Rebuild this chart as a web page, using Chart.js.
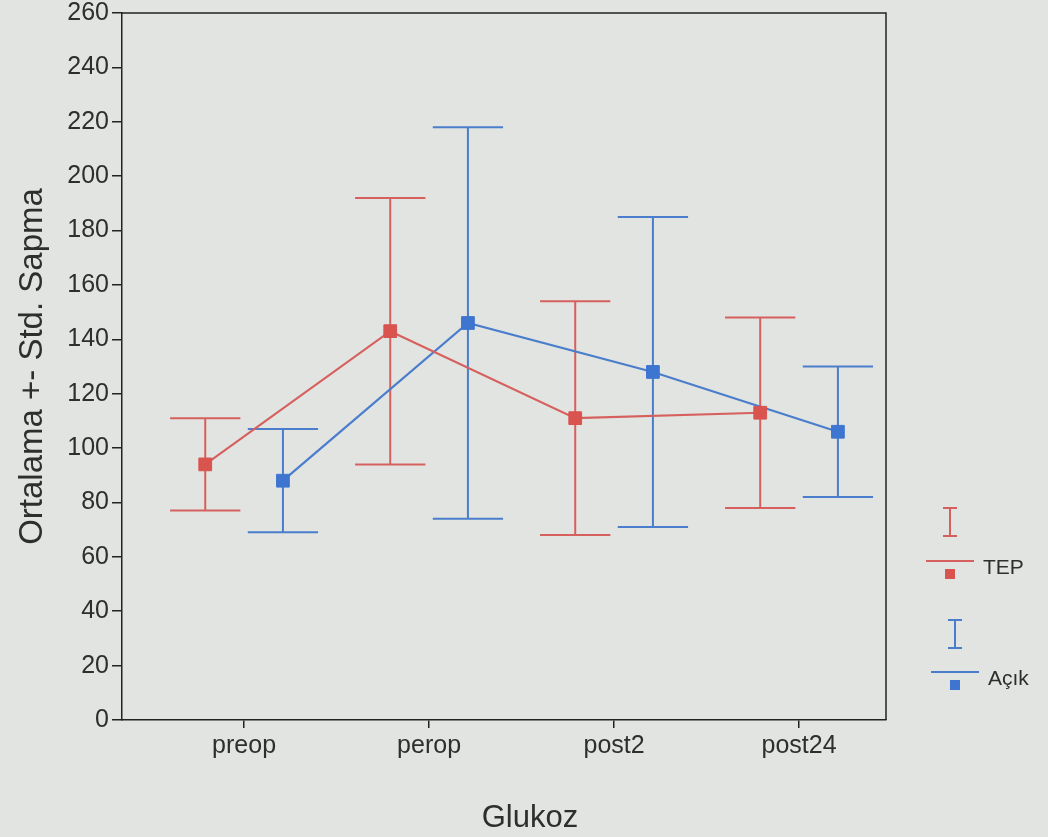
<!DOCTYPE html>
<html><head><meta charset="utf-8">
<script src="https://cdn.jsdelivr.net/npm/chart.js@4/dist/chart.umd.min.js"></script>
<style>html,body{margin:0;padding:0;background:#e2e4e1;overflow:hidden}#wrap{width:1048px;height:837px;position:relative}</style>
</head><body><div id="wrap"><canvas id="c" width="1048" height="837"></canvas></div>
<script>
// Data (mean ± SD)
const categories = ['preop', 'perop', 'post2', 'post24'];
const seriesNames = ['TEP', 'Açık'];
const tepMean = [94, 143, 111, 113];
const tepSD   = [17, 49, 43, 35];
const acikMean = [88, 146, 128, 106];
const acikSD   = [19, 72, 57, 24];
const yTickValues = [0, 20, 40, 60, 80, 100, 120, 140, 160, 180, 200, 220, 240, 260];
const xTitle = 'Glukoz';
const yTitle = 'Ortalama +- Std. Sapma';

const RED = '#d6605e', BLUE = '#4a7dcc';
const RED_M = '#d9534f', BLUE_M = '#3d75d0';
const DODGE = 0.21, CAP_HALF = 0.19;
const FONT = "'Liberation Sans', Arial, sans-serif";

function pts(means, off){ return means.map((m,i)=>({x:i+1+off, y:m})); }

const errorBars = {
  id:'errorBars',
  beforeDatasetsDraw(chart){
    const {ctx, scales:{x,y}} = chart;
    chart.data.datasets.forEach(ds=>{
      ctx.save();
      ctx.strokeStyle = ds.borderColor; ctx.lineWidth = 2;
      ds.data.forEach((p,i)=>{
        const sd = ds.sd[i];
        const px = x.getPixelForValue(p.x);
        const x0 = x.getPixelForValue(p.x - CAP_HALF), x1 = x.getPixelForValue(p.x + CAP_HALF);
        const yt = y.getPixelForValue(p.y + sd), yb = y.getPixelForValue(p.y - sd);
        ctx.beginPath();
        ctx.moveTo(px, yt); ctx.lineTo(px, yb);
        ctx.moveTo(x0, yt); ctx.lineTo(x1, yt);
        ctx.moveTo(x0, yb); ctx.lineTo(x1, yb);
        ctx.stroke();
      });
      ctx.restore();
    });
  },
  afterDraw(chart){
    const {ctx, chartArea:a} = chart;
    ctx.save();
    // frame top & right
    ctx.strokeStyle = '#222'; ctx.lineWidth = 1.5;
    ctx.beginPath();
    ctx.moveTo(a.left, a.top); ctx.lineTo(a.right, a.top); ctx.lineTo(a.right, a.bottom);
    ctx.stroke();
    // x title
    ctx.fillStyle = '#2e2e2e';
    ctx.font = "31px " + FONT;
    ctx.textAlign = 'center'; ctx.textBaseline = 'middle';
    ctx.fillText(xTitle, 530, 818);
    // legend
    const items = [
      {name: seriesNames[0], c: RED, m: RED_M, ix: 950, iy: 508, ly: 561},
      {name: seriesNames[1], c: BLUE, m: BLUE_M, ix: 955, iy: 620, ly: 672}
    ];
    items.forEach(it=>{
      ctx.strokeStyle = it.c; ctx.lineWidth = 2;
      ctx.beginPath();
      ctx.moveTo(it.ix, it.iy); ctx.lineTo(it.ix, it.iy+28);
      ctx.moveTo(it.ix-7, it.iy); ctx.lineTo(it.ix+7, it.iy);
      ctx.moveTo(it.ix-7, it.iy+28); ctx.lineTo(it.ix+7, it.iy+28);
      ctx.moveTo(it.ix-24, it.ly); ctx.lineTo(it.ix+24, it.ly);
      ctx.stroke();
      ctx.fillStyle = it.m;
      ctx.fillRect(it.ix-5, it.ly+8, 10, 10);
      ctx.fillStyle = '#2e2e2e';
      ctx.font = "21px " + FONT;
      ctx.textAlign = 'left'; ctx.textBaseline = 'middle';
      ctx.fillText(it.name, it.ix+33, it.ly+7);
    });
    ctx.restore();
  }
};

new Chart(document.getElementById('c'), {
  type: 'line',
  data: {
    datasets: [
      {label: seriesNames[0], data: pts(tepMean, -DODGE), sd: tepSD, borderColor: RED, backgroundColor: RED_M,
       pointBackgroundColor: RED_M, pointBorderColor: RED_M, borderWidth: 2.2, pointStyle: 'rect', pointRadius: 9, pointBorderWidth: 1},
      {label: seriesNames[1], data: pts(acikMean, DODGE), sd: acikSD, borderColor: BLUE, backgroundColor: BLUE_M,
       pointBackgroundColor: BLUE_M, pointBorderColor: BLUE_M, borderWidth: 2.2, pointStyle: 'rect', pointRadius: 9, pointBorderWidth: 1}
    ]
  },
  options: {
    responsive: false, animation: false, devicePixelRatio: 1,
    layout: {padding: {top: 0, right: 162, left: 0, bottom: 0}},
    plugins: {legend: {display: false}, tooltip: {enabled: false}},
    elements: {line: {tension: 0}},
    scales: {
      x: {
        type: 'linear', min: 0.34, max: 4.47,
        afterBuildTicks: s => { s.ticks = categories.map((c,i)=>({value: i+1})); },
        afterFit: s => { s.height = 117; },
        ticks: {callback: v => categories[Math.round(v)-1], autoSkip: false, maxRotation: 0,
                color: '#2e2e2e', font: {family: FONT, size: 25}, padding: 3},
        grid: {drawOnChartArea: false, drawTicks: true, tickLength: 8, color: '#222', lineWidth: 1.5},
        border: {display: true, color: '#222', width: 1.5}
      },
      y: {
        min: 0, max: 260,
        afterBuildTicks: s => { s.ticks = yTickValues.map(v=>({value:v})); },
        afterFit: s => { s.width = 122; s.paddingTop = 13; s.paddingBottom = 0; },
        ticks: {color: '#2e2e2e', font: {family: FONT, size: 25}, padding: 3},
        grid: {drawOnChartArea: false, drawTicks: true, tickLength: 10, color: '#222', lineWidth: 1.5},
        border: {display: true, color: '#222', width: 1.5},
        title: {display: true, text: yTitle, color: '#2e2e2e', font: {family: FONT, size: 33}, padding: {top: 13}}
      }
    }
  },
  plugins: [errorBars]
});
</script></body></html>
